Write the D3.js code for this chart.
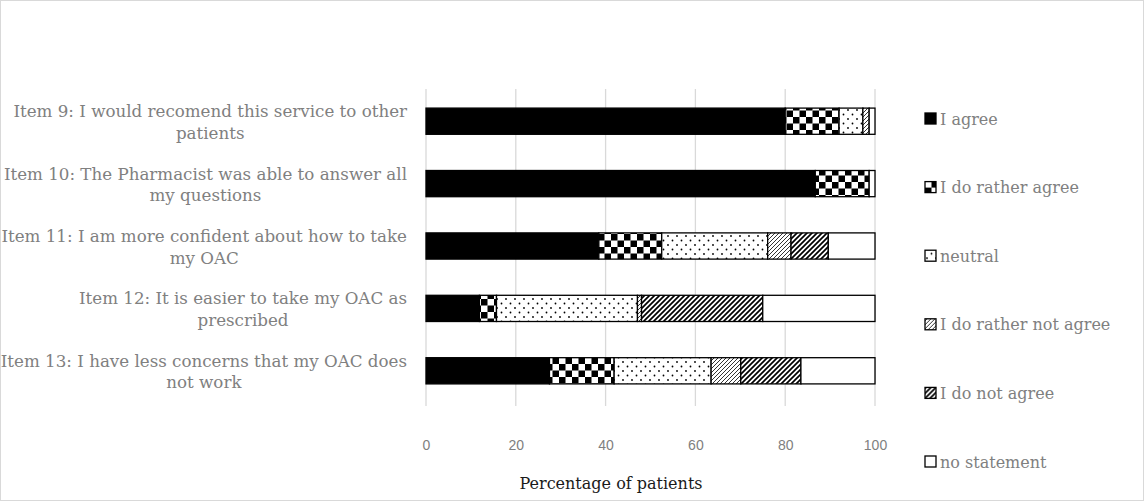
<!DOCTYPE html>
<html>
<head>
<meta charset="utf-8">
<script src="https://cdn.jsdelivr.net/npm/d3@7"></script>
<style>
  body { margin: 0; background: #fff; }
  svg { display: block; }
</style>
</head>
<body>
<div id="chart"></div>
<script>
// categories (line breaks as in the original)
var categories = [
  "Item 9: I would recomend this service to other\npatients",
  "Item 10: The Pharmacist was able to answer all\nmy questions",
  "Item 11: I am more confident about how to take\nmy OAC",
  "Item 12: It is easier to take my OAC as\nprescribed",
  "Item 13: I have less concerns that my OAC does\nnot work"
];
var seriesNames = ["I agree", "I do rather agree", "neutral",
  "I do rather not agree", "I do not agree", "no statement"];

// percentage of patients per item
var agree          = [80.0, 86.7, 38.5, 11.9, 27.5];
var ratherAgree    = [12.0, 12.0, 14.0,  3.8, 14.4];
var neutral        = [ 5.3,  0.0, 23.6, 31.4, 21.6];
var ratherNotAgree = [ 1.4,  0.0,  5.2,  0.9,  6.6];
var notAgree       = [ 0.0,  0.0,  8.3, 27.0, 13.4];
var noStatement    = [ 1.3,  1.3, 10.4, 25.0, 16.5];

var xTicks = [0, 20, 40, 60, 80, 100];

var w = 1144, h = 501;
var serif = "'DejaVu Serif', serif";
var svg = d3.select("#chart").append("svg")
  .attr("width", w).attr("height", h);

// outer chart border
svg.append("rect")
  .attr("x", 0.5).attr("y", 0.5)
  .attr("width", w - 1).attr("height", h - 1)
  .attr("fill", "#fff").attr("stroke", "#d9d9d9");

// fill patterns
var defs = svg.append("defs");
function pat(id, size) {
  var p = defs.append("pattern").attr("id", id)
    .attr("patternUnits", "userSpaceOnUse")
    .attr("width", size).attr("height", size);
  p.append("rect").attr("width", size).attr("height", size).attr("fill", "#fff");
  return p;
}
var chk = pat("checker", 13);
chk.append("rect").attr("width", 6.5).attr("height", 6.5).attr("fill", "#000");
chk.append("rect").attr("x", 6.5).attr("y", 6.5).attr("width", 6.5).attr("height", 6.5).attr("fill", "#000");

var dots = pat("dots", 9);
dots.append("circle").attr("cx", 2).attr("cy", 2).attr("r", 0.9).attr("fill", "#000");
dots.append("circle").attr("cx", 6.5).attr("cy", 6.5).attr("r", 0.9).attr("fill", "#000");

var light = pat("lightdiag", 4);
light.append("path").attr("d", "M-1,1 l2,-2 M0,4 l4,-4 M3,5 l2,-2")
  .attr("stroke", "#000").attr("stroke-width", 0.8);

var dark = pat("darkdiag", 5);
dark.append("path").attr("d", "M-1,1 l2,-2 M0,5 l5,-5 M4,6 l2,-2")
  .attr("stroke", "#000").attr("stroke-width", 1.7);

var fills = ["#000", "url(#checker)", "url(#dots)", "url(#lightdiag)", "url(#darkdiag)", "#fff"];

// scales
var x = d3.scaleLinear().domain([0, 100]).range([426, 875]);
var y = d3.scaleBand().domain(categories).range([90, 402]).paddingInner(0.58).paddingOuter(0.29);

// gridlines
svg.append("g").selectAll("line").data(xTicks).enter().append("line")
  .attr("x1", function(d) { return x(d); })
  .attr("x2", function(d) { return x(d); })
  .attr("y1", 89).attr("y2", 406)
  .attr("stroke", "#d9d9d9").attr("stroke-width", 1.3);

// stacked bars
var rows = categories.map(function(c, i) {
  return { cat: c, agree: agree[i], ratherAgree: ratherAgree[i], neutral: neutral[i],
    ratherNotAgree: ratherNotAgree[i], notAgree: notAgree[i], noStatement: noStatement[i] };
});
var keys = ["agree", "ratherAgree", "neutral", "ratherNotAgree", "notAgree", "noStatement"];
var stacked = d3.stack().keys(keys)(rows);

svg.append("g").selectAll("g").data(stacked).enter().append("g")
  .attr("fill", function(d, i) { return fills[i]; })
  .selectAll("rect").data(function(d) { return d.filter(function(s) { return s[1] - s[0] > 0; }); })
  .enter().append("rect")
  .attr("x", function(d) { return x(d[0]); })
  .attr("width", function(d) { return x(d[1]) - x(d[0]); })
  .attr("y", function(d) { return y(d.data.cat); })
  .attr("height", y.bandwidth())
  .attr("stroke", "#000").attr("stroke-width", 1.3);

// category labels: block right-aligned at 407, lines centred in the block
var cl = svg.append("g").selectAll("text").data(categories).enter().append("text")
  .attr("font-family", serif)
  .attr("font-size", 16.7)
  .attr("fill", "#808080")
  .attr("text-anchor", "middle");
cl.each(function(d) {
  var lines = d.split("\n");
  var cy = y(d) + y.bandwidth() / 2 + 1;
  var t = d3.select(this);
  var spans = lines.map(function(l, k) {
    return t.append("tspan")
      .attr("y", cy + (k - (lines.length - 1) / 2) * 21.5)
      .attr("dy", "0.35em")
      .text(l);
  });
  var maxW = d3.max(spans, function(s) { return s.node().getComputedTextLength(); });
  spans.forEach(function(s) { s.attr("x", 407 - maxW / 2); });
});

// x axis tick labels
var xAxis = d3.axisBottom(x).tickValues(xTicks).tickSize(0).tickPadding(0);
var ax = svg.append("g").attr("transform", "translate(0,440)").call(xAxis);
ax.select(".domain").remove();
ax.selectAll("text")
  .attr("font-family", "'Liberation Sans', sans-serif")
  .attr("font-size", 14).attr("fill", "#808080");

svg.append("text")
  .attr("x", 611).attr("y", 483).attr("dy", "0.35em")
  .attr("text-anchor", "middle")
  .attr("font-family", serif)
  .attr("font-size", 16).attr("fill", "#1a1a1a")
  .text("Percentage of patients");

// legend
var lg = svg.append("g").selectAll("g").data(seriesNames).enter().append("g")
  .attr("transform", function(d, i) { return "translate(925," + (119 + i * 68.6) + ")"; });
lg.append("rect")
  .attr("x", 0).attr("y", -6).attr("width", 11).attr("height", 11)
  .attr("fill", function(d, i) { return fills[i]; })
  .attr("stroke", "#000").attr("stroke-width", 1.3);
lg.append("text")
  .attr("x", 15).attr("dy", "0.35em")
  .attr("font-family", serif)
  .attr("font-size", 16).attr("fill", "#808080")
  .text(function(d) { return d; });
</script>
</body>
</html>
